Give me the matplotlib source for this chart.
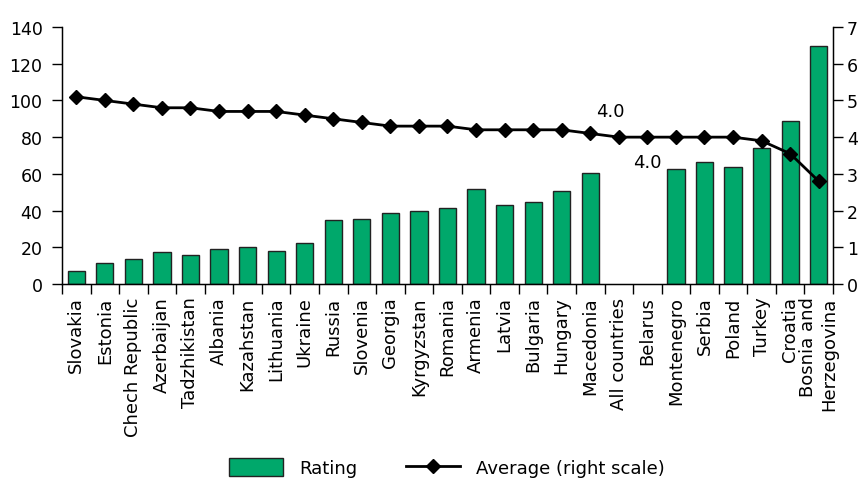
import matplotlib.pyplot as plt
from matplotlib.patches import Patch
from matplotlib.lines import Line2D
import numpy as np

countries = ['Slovakia', 'Estonia', 'Chech Republic', 'Azerbaijan', 'Tadzhikistan',
             'Albania', 'Kazahstan', 'Lithuania', 'Ukraine', 'Russia', 'Slovenia',
             'Georgia', 'Kyrgyzstan', 'Romania', 'Armenia', 'Latvia', 'Bulgaria',
             'Hungary', 'Macedonia', 'All countries', 'Belarus', 'Montenegro',
             'Serbia', 'Poland', 'Turkey', 'Croatia', 'Bosnia and\nHerzegovina']
# rating (left scale); no bar for the group average and Belarus
rating = [7, 11.3, 13.8, 17.3, 15.6, 19.1, 20, 18.2, 22.5, 34.7, 35.5, 38.9, 39.8,
          41.5, 51.8, 43.1, 44.9, 50.9, 60.5, np.nan, np.nan, 62.9, 66.5, 64,
          74.2, 88.9, 129.6]
# average score (right scale)
average = [5.1, 5.0, 4.9, 4.8, 4.8, 4.7, 4.7, 4.7, 4.6, 4.5, 4.4, 4.3, 4.3, 4.3,
           4.2, 4.2, 4.2, 4.2, 4.1, 4.0, 4.0, 4.0, 4.0, 4.0, 3.9, 3.55, 2.8]

green = '#00a86b'
edge = '#222222'

fig = plt.figure(figsize=(8.68, 4.81), dpi=100)
ax = fig.add_axes([62 / 868, 1 - 285 / 481, (833 - 62) / 868, (285 - 28) / 481])
x = np.arange(len(countries))

ax.bar(x, rating, width=0.6, color=green, edgecolor=edge, linewidth=1, zorder=2)
ax.set_xlim(-0.5, len(countries) - 0.5)
ax.set_ylim(0, 140)
ax.set_yticks(range(0, 141, 20))
ax.tick_params(axis='y', labelsize=12.5, length=7, width=1, direction='out', pad=7)

ax.set_xticks(x)
ax.set_xticklabels(countries, rotation=90, fontsize=13,
                   va='top', ha='center', multialignment='right')
ax.tick_params(axis='x', which='major', length=0, pad=9)
ax.set_xticks(np.arange(-0.5, len(countries)), minor=True)
ax.tick_params(axis='x', which='minor', length=7, width=1, direction='out')
ax.spines['top'].set_visible(False)
for s in ['left', 'right', 'bottom']:
    ax.spines[s].set_linewidth(1)

ax2 = ax.twinx()
ax2.plot(x, average, color='black', linewidth=2, marker='D', markersize=7, zorder=3)
ax2.set_ylim(0, 7)
ax2.set_yticks(range(0, 8))
ax2.tick_params(axis='y', labelsize=12.5, length=7, width=1, direction='out', pad=3)
ax2.spines['top'].set_visible(False)

ax2.text(18.7, 4.72, '4.0', fontsize=13, ha='center', va='center')
ax2.text(20, 3.33, '4.0', fontsize=13, ha='center', va='center')

handles = [Patch(facecolor=green, edgecolor=edge, linewidth=1),
           Line2D([], [], color='black', linewidth=2, marker='D', markersize=7)]
fig.legend(handles, ['Rating', 'Average (right scale)'], loc='lower left',
           bbox_to_anchor=(216 / 868, -0.02), ncol=2, frameon=False,
           prop={'size': 13}, handlelength=3.0, handleheight=1.1,
           columnspacing=2.7, handletextpad=0.9, borderpad=0.2)

fig.savefig('out.png', dpi=100)
